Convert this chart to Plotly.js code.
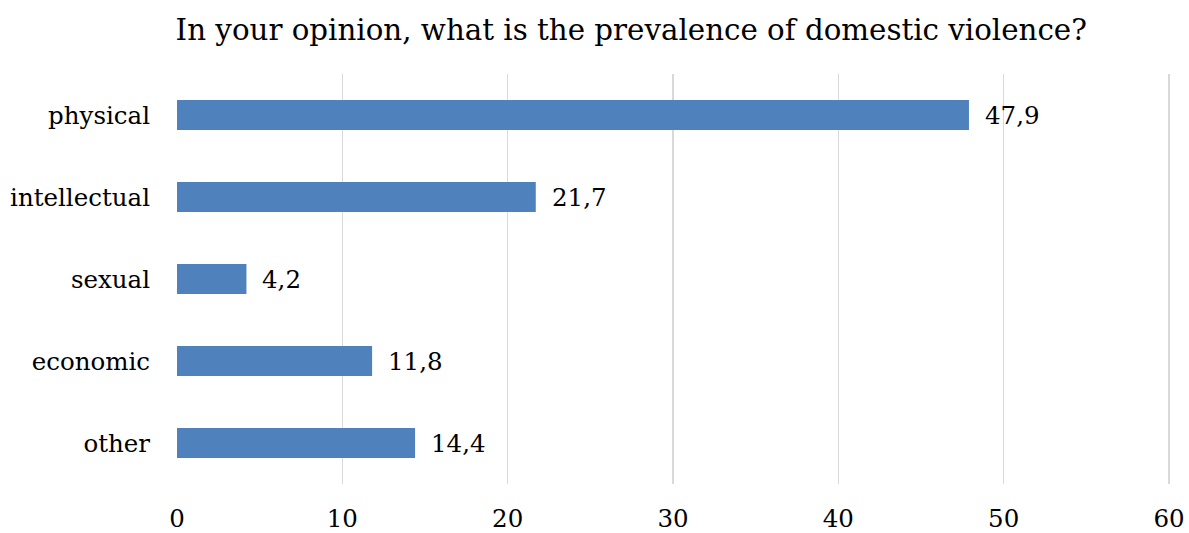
<!DOCTYPE html>
<html>
<head>
<meta charset="utf-8">
<script src="https://cdn.plot.ly/plotly-3.0.1.min.js"></script>
<style>html,body{margin:0;padding:0;background:#fff;}#chart{width:1189px;height:533px;}</style>
</head>
<body>
<div id="chart"></div>
<script>
const categories = ["physical", "intellectual", "sexual", "economic", "other"];
const values = [47.9, 21.7, 4.2, 11.8, 14.4];
const xTicks = [0, 10, 20, 30, 40, 50, 60];
const titleText = "In your opinion, what is the prevalence of domestic violence?";

const FONT = "DejaVu Serif, Liberation Serif, serif";
const labels = values.map(v => v.toFixed(1).replace('.', ','));

const trace = {
  type: 'bar',
  orientation: 'h',
  x: values,
  y: categories,
  marker: {color: '#4F81BD'},
  width: 0.365,
  hoverinfo: 'none'
};

const annotations = values.map((v, i) => ({
  x: v, y: categories[i], xref: 'x', yref: 'y',
  text: labels[i], showarrow: false, xanchor: 'left', xshift: 14,
  font: {family: FONT, size: 24.5, color: '#000'}
}));

const layout = {
  width: 1189, height: 533,
  margin: {l: 177, r: 18, t: 74, b: 49, pad: 0},
  paper_bgcolor: '#fff', plot_bgcolor: '#fff',
  title: {text: titleText, font: {family: FONT, size: 29.3, color: '#000'},
          x: 0.4570, xref: 'paper', xanchor: 'center', y: 0.945, yanchor: 'middle'},
  xaxis: {range: [0, 60.12], tickvals: xTicks, ticktext: xTicks.map(String),
          showgrid: true, gridcolor: '#d9d9d9', gridwidth: 1.5, zeroline: false,
          showline: false, ticks: '', ticklabelstandoff: 17,
          tickfont: {family: FONT, size: 24.5, color: '#000'}, fixedrange: true},
  yaxis: {autorange: 'reversed', categoryorder: 'array', categoryarray: categories,
          showgrid: false, zeroline: false, showline: false, ticks: '',
          ticklabelstandoff: 26,
          tickfont: {family: FONT, size: 24.5, color: '#000'}, fixedrange: true},
  annotations: annotations,
  showlegend: false
};

Plotly.newPlot('chart', [trace], layout, {displayModeBar: false, staticPlot: true});
</script>
</body>
</html>
